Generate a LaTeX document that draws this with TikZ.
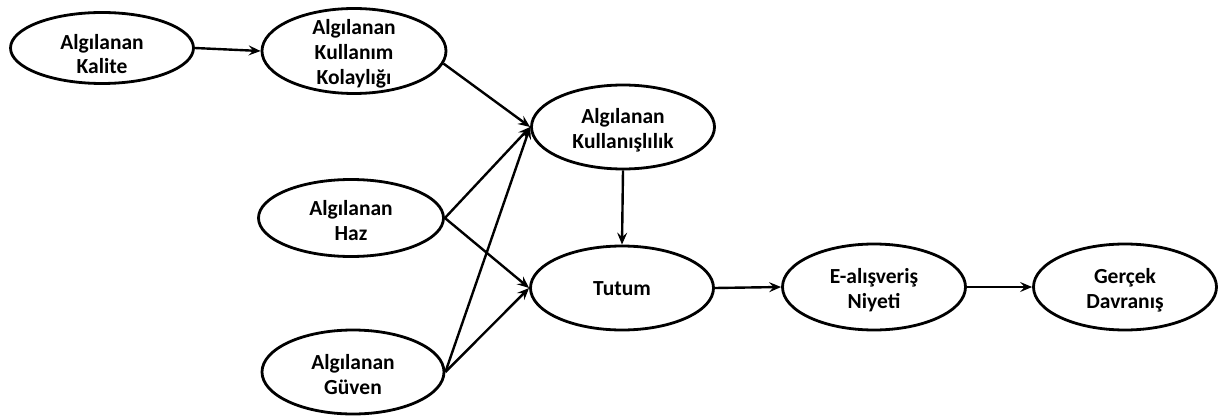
\documentclass[tikz,border=0pt]{standalone}
\usepackage{fontspec}
\setmainfont{Carlito}[BoldFont={Carlito Bold}]
\usetikzlibrary{shapes.geometric,arrows.meta}
\tikzset{
  oval/.style={ellipse, draw=black, line width=2.8pt, inner sep=0pt},
  lbl/.style={align=center, inner sep=0pt, font=\fontsize{21.5}{25}\selectfont\bfseries},
  arr/.style={line width=2.4pt, -{Stealth[length=12pt,width=10pt,inset=4.5pt]}}
}
\begin{document}
\begin{tikzpicture}[x=1pt,y=-1pt]
\useasboundingbox (0,0) rectangle (1230,417);
\node[oval, minimum width=183pt, minimum height=71pt] (kal) at (102,48) {};
\node[oval, minimum width=184pt, minimum height=85pt] (kol) at (354,51) {};
\node[oval, minimum width=183pt, minimum height=84pt] (kul) at (623,127) {};
\node[oval, minimum width=185pt, minimum height=77pt] (haz) at (351,218) {};
\node[oval, minimum width=183pt, minimum height=84pt] (tut) at (622,288) {};
\node[oval, minimum width=182pt, minimum height=84pt] (guv) at (353,372) {};
\node[oval, minimum width=183pt, minimum height=86pt] (niy) at (874,287) {};
\node[oval, minimum width=183pt, minimum height=86pt] (ger) at (1125,287) {};

\node[lbl, font=\fontsize{21.5}{24}\selectfont\bfseries] (tkal) at ([yshift=-6pt]kal.center) {Algılanan\\Kalite};
\node[lbl] (tkol) at ([yshift=-3pt]kol.center) {Algılanan\\Kullanım\\Kolaylığı};
\node[lbl] (tkul) at ([yshift=-3pt]kul.center) {Algılanan\\Kullanışlılık};
\node[lbl] (thaz) at ([yshift=-3pt]haz.center) {Algılanan\\Haz};
\node[lbl] (ttut) at ([yshift=-1pt]tut.center) {Tutum};
\node[lbl] (tguv) at ([yshift=-3pt]guv.center) {Algılanan\\Güven};
\node[lbl] (tniy) at ([yshift=-3pt]niy.center) {E-alışveriş\\Niyeti};
\node[lbl] (tger) at ([yshift=-3pt]ger.center) {Gerçek\\Davranış};

\draw[arr] (kal.east) -- (kol.west);
\draw[arr] (kol.-8) -- (kul.west);
\draw[arr] (haz.east) -- (kul.west);
\draw[arr] (guv.east) -- (kul.west);
\draw[arr] (haz.east) -- (tut.west);
\draw[arr] (guv.east) -- (tut.west);
\draw[arr] (kul.south) -- (tut.north);
\draw[arr] (tut.east) -- (niy.west);
\draw[arr] (niy.east) -- (ger.west);
\end{tikzpicture}
\end{document}
